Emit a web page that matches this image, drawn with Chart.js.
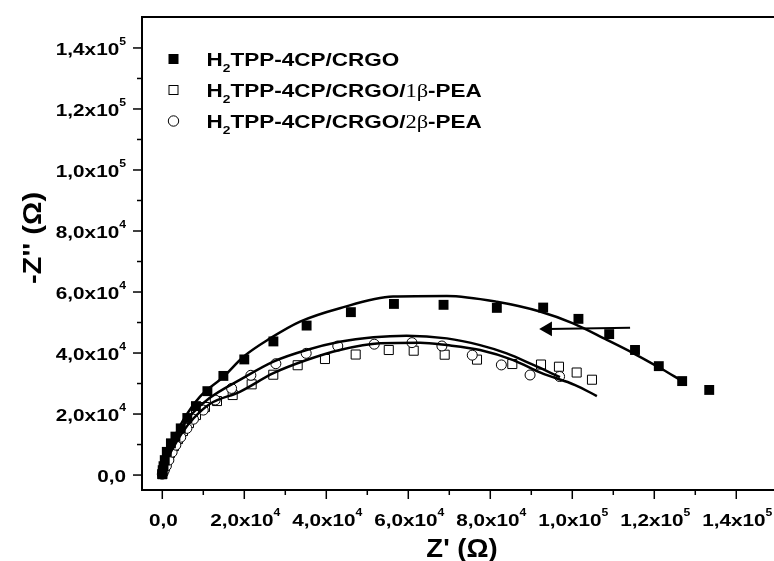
<!DOCTYPE html>
<html>
<head>
<meta charset="utf-8">
<script src="https://cdn.jsdelivr.net/npm/chart.js@4.4.0/dist/chart.umd.min.js"></script>
<style>
    html, body { margin: 0; padding: 0; background: #fff; }
    canvas { display: block; }
</style>
</head>
<body>
<canvas id="nyquist" width="774" height="561"></canvas>
<script>
// Datos: Z' (eje x) y -Z'' (eje y), en ohm

// H2TPP-4CP/CRGO (cuadrado negro)
const crgo_x = [0, 100, 300, 600, 1100, 2100, 3200, 4500, 6100, 8200, 11000, 14900, 20000, 27100, 35200, 46000, 56500, 68600, 81600, 92900, 101500, 109000, 115300, 121100, 126800, 133400];
const crgo_y = [300, 1600, 2900, 4900, 7600, 10400, 12600, 15300, 18700, 22600, 27500, 32500, 37900, 43800, 49000, 53400, 56100, 55800, 54800, 54900, 51200, 46200, 41000, 35700, 30800, 27900];

// H2TPP-4CP/CRGO/1β-PEA (cuadrado blanco)
const pea1_x = [0, 170, 660, 1150, 1880, 2850, 3830, 5050, 6510, 8220, 10410, 13340, 17170, 21800, 27070, 33020, 39680, 47170, 55240, 61320, 68880, 76760, 85370, 92370, 96750, 101070, 104800];
const pea1_y = [300, 1310, 2950, 4920, 7210, 9510, 11800, 14430, 17050, 19670, 22300, 24260, 26230, 29740, 32890, 36000, 38040, 39510, 40990, 40760, 39450, 37840, 36400, 36230, 35510, 33610, 31250];

// H2TPP-4CP/CRGO/2β-PEA (círculo blanco)
const pea2_x = [0, 200, 500, 1000, 1600, 2400, 3300, 4500, 6000, 7600, 10000, 12900, 16900, 21600, 27700, 35100, 42800, 51700, 60900, 68200, 75600, 82700, 89700, 96900];
const pea2_y = [300, 700, 1600, 3000, 4900, 7500, 9800, 12400, 15300, 18300, 21300, 24600, 28400, 32700, 36500, 39900, 42300, 42900, 43400, 42300, 39300, 36100, 32800, 32300];

// Curvas de ajuste (líneas continuas)
const ajuste_crgo_x = [0, 700, 1900, 3300, 5100, 9200, 14900, 19800, 26300, 33600, 43300, 56300, 69400, 81600, 92100, 100200, 108000, 114800, 121400, 126800];
const ajuste_crgo_y = [300, 4300, 8900, 13400, 18000, 25700, 32200, 38800, 44800, 50300, 54700, 58500, 58700, 56800, 53600, 49700, 44600, 40000, 35100, 30800];

const ajuste_pea1_x = [0, 900, 2600, 4800, 7700, 11600, 18900, 27100, 35200, 43300, 53100, 62900, 69400, 77500, 85600, 92400, 100700, 106000];
const ajuste_pea1_y = [0, 4300, 8800, 13800, 18700, 23300, 27300, 33400, 37700, 41000, 43200, 43400, 42600, 41000, 37700, 33500, 29500, 25900];

const ajuste_pea2_x = [0, 900, 2400, 4300, 7200, 11600, 18900, 27100, 35200, 43300, 51500, 59600, 69400, 77500, 84000, 90500, 97000];
const ajuste_pea2_y = [0, 4900, 9800, 14800, 20000, 25300, 31200, 37200, 41000, 43700, 45200, 45700, 44800, 42600, 39900, 36100, 32100];

// Flecha (dirección de la frecuencia)
const flecha_x = [114100, 94000];
const flecha_y = [48300, 47900];

// Marcas de los ejes
const ticks_x = [0, 20000, 40000, 60000, 80000, 100000, 120000, 140000];
const etiquetas_x = ['0,0', '2,0x10^4', '4,0x10^4', '6,0x10^4', '8,0x10^4', '1,0x10^5', '1,2x10^5', '1,4x10^5'];
const ticks_y = [0, 20000, 40000, 60000, 80000, 100000, 120000, 140000];
const etiquetas_y = ['0,0', '2,0x10^4', '4,0x10^4', '6,0x10^4', '8,0x10^4', '1,0x10^5', '1,2x10^5', '1,4x10^5'];
const paso_menor = 10000;

const titulo_x = "Z' (Ω)";
const titulo_y = "-Z'' (Ω)";

function puntos(xs, ys) {
    return xs.map((x, i) => ({ x: x, y: ys[i] }));
}

// Texto con estiramiento horizontal (como en el original de Origin)
const FUENTE = '"Liberation Sans", Arial, sans-serif';
const SERIF = '"Liberation Serif", "Times New Roman", serif';

function anchoPartes(ctx, partes, estirar) {
    let w = 0;
    partes.forEach(p => {
        ctx.font = p.font;
        w += ctx.measureText(p.t).width * estirar;
    });
    return w;
}

function escribirPartes(ctx, partes, x, y, estirar) {
    partes.forEach(p => {
        ctx.font = p.font;
        ctx.save();
        ctx.translate(x, y + (p.dy || 0));
        ctx.scale(estirar, 1);
        ctx.textAlign = 'left';
        ctx.textBaseline = 'alphabetic';
        ctx.fillText(p.t, 0, 0);
        ctx.restore();
        x += ctx.measureText(p.t).width * estirar;
    });
}

function partesTick(etiqueta) {
    const trozos = etiqueta.split('^');
    const partes = [{ t: trozos[0], font: 'bold 17px ' + FUENTE }];
    if (trozos[1]) partes.push({ t: trozos[1], font: 'bold 10px ' + FUENTE, dy: -10 });
    return partes;
}

function partesLeyenda(nombre) {
    // "H2TPP-..." con el 2 en subíndice y "1β"/"2β" en fuente serif
    const negrita = 'bold 18px ' + FUENTE;
    const partes = [{ t: 'H', font: negrita }, { t: '2', font: 'bold 11px ' + FUENTE, dy: 6 }];
    const resto = nombre.slice(2);
    const m = resto.match(/^(.*\/)(\dβ)(.*)$/);
    if (m) {
        partes.push({ t: m[1], font: negrita });
        partes.push({ t: m[2], font: '18px ' + SERIF });
        partes.push({ t: m[3], font: negrita });
    } else {
        partes.push({ t: resto, font: negrita });
    }
    return partes;
}

const ejes_origin = {
    id: 'ejes_origin',
    afterDatasetsDraw(chart) {
        const ctx = chart.ctx;
        const area = chart.chartArea;
        const sx = chart.scales.x;
        const sy = chart.scales.y;
        ctx.save();
        ctx.fillStyle = '#000';
        ctx.strokeStyle = '#000';

        // marco: arriba, izquierda, abajo
        ctx.lineWidth = 2;
        ctx.beginPath();
        ctx.moveTo(area.right + 2, area.top);
        ctx.lineTo(area.left, area.top);
        ctx.lineTo(area.left, area.bottom);
        ctx.lineTo(area.right + 2, area.bottom);
        ctx.stroke();

        // marcas mayores y menores
        ctx.lineWidth = 1.5;
        const vmax = ticks_x[ticks_x.length - 1];
        for (let v = 0; v <= vmax; v += paso_menor) {
            const largo = ticks_x.includes(v) ? 9 : 5;
            const px = sx.getPixelForValue(v);
            ctx.beginPath();
            ctx.moveTo(px, area.bottom);
            ctx.lineTo(px, area.bottom + largo);
            ctx.stroke();
        }
        const vmaxy = ticks_y[ticks_y.length - 1];
        for (let v = 0; v <= vmaxy + paso_menor; v += paso_menor) {
            if (sy.getPixelForValue(v) <= area.top + 2) break;
            const largo = ticks_y.includes(v) ? 9 : 5;
            const py = sy.getPixelForValue(v);
            ctx.beginPath();
            ctx.moveTo(area.left, py);
            ctx.lineTo(area.left - largo, py);
            ctx.stroke();
        }

        // etiquetas de los ejes
        const est = 1.22;
        ticks_x.forEach((v, i) => {
            const partes = partesTick(etiquetas_x[i]);
            const w = anchoPartes(ctx, partes, est);
            escribirPartes(ctx, partes, sx.getPixelForValue(v) - w / 2 + 1, area.bottom + 36, est);
        });
        ticks_y.forEach((v, i) => {
            const partes = partesTick(etiquetas_y[i]);
            const w = anchoPartes(ctx, partes, est);
            escribirPartes(ctx, partes, area.left - 16 - w, sy.getPixelForValue(v) + 7, est);
        });

        // títulos
        const pt = [{ t: titulo_x, font: 'bold 25px ' + FUENTE }];
        const wt = anchoPartes(ctx, pt, 1.1);
        escribirPartes(ctx, pt, 462 - wt / 2, 557, 1.1);

        const py_t = [{ t: titulo_y, font: 'bold 26px ' + FUENTE }];
        const wy = anchoPartes(ctx, py_t, 1.12);
        ctx.save();
        ctx.translate(41, 238);
        ctx.rotate(-Math.PI / 2);
        escribirPartes(ctx, py_t, -wy / 2, 0, 1.12);
        ctx.restore();

        // leyenda
        const base_y = [66, 97, 128];
        const sym_y = [59, 90, 121];
        const sym_x = 173.5;
        // cuadrado negro
        ctx.fillRect(sym_x - 5, sym_y[0] - 5, 10, 10);
        // cuadrado blanco
        ctx.lineWidth = 1;
        ctx.fillStyle = '#fff';
        ctx.fillRect(sym_x - 4.5, sym_y[1] - 4.5, 9, 9);
        ctx.strokeRect(sym_x - 4.5, sym_y[1] - 4.5, 9, 9);
        // círculo blanco
        ctx.beginPath();
        ctx.arc(sym_x, sym_y[2], 5.2, 0, Math.PI * 2);
        ctx.fill();
        ctx.stroke();
        ctx.fillStyle = '#000';
        series_nombres.forEach((n, i) => {
            escribirPartes(ctx, partesLeyenda(n), 206.5, base_y[i], 1.25);
        });

        ctx.restore();
    }
};

const series_nombres = ['H2TPP-4CP/CRGO', 'H2TPP-4CP/CRGO/1β-PEA', 'H2TPP-4CP/CRGO/2β-PEA'];

function lineaAjuste(xs, ys) {
    return {
        data: puntos(xs, ys),
        showLine: true,
        borderColor: '#000',
        borderWidth: 2.5,
        pointRadius: 0,
        cubicInterpolationMode: 'monotone',
        order: 1
    };
}

const ctx = document.getElementById('nyquist').getContext('2d');
const grafico = new Chart(ctx, {
    type: 'scatter',
    data: {
        datasets: [
            lineaAjuste(ajuste_crgo_x, ajuste_crgo_y),
            lineaAjuste(ajuste_pea1_x, ajuste_pea1_y),
            lineaAjuste(ajuste_pea2_x, ajuste_pea2_y),
            {
                data: puntos(flecha_x, flecha_y),
                showLine: true,
                borderColor: '#000',
                borderWidth: 2,
                backgroundColor: '#000',
                pointStyle: 'triangle',
                pointRadius: [0, 8.5],
                pointRotation: -90,
                pointBorderWidth: 0,
                order: 0
            },
            {
                label: series_nombres[0],
                data: puntos(crgo_x, crgo_y),
                pointStyle: 'rect',
                pointRadius: 7,
                backgroundColor: '#000',
                borderColor: '#000',
                borderWidth: 0,
                order: 2
            },
            {
                label: series_nombres[1],
                data: puntos(pea1_x, pea1_y),
                pointStyle: 'rect',
                pointRadius: 6.4,
                backgroundColor: '#fff',
                borderColor: '#000',
                borderWidth: 1,
                order: 3
            },
            {
                label: series_nombres[2],
                data: puntos(pea2_x, pea2_y),
                pointStyle: 'circle',
                pointRadius: 5,
                backgroundColor: '#fff',
                borderColor: '#000',
                borderWidth: 1,
                order: 2
            }
        ]
    },
    options: {
        responsive: false,
        animation: false,
        devicePixelRatio: 1,
        layout: { padding: { left: 142, top: 17, right: 0, bottom: 71 }, autoPadding: false },
        plugins: {
            legend: { display: false },
            tooltip: { enabled: false }
        },
        scales: {
            x: { type: 'linear', min: -4950, max: 149200, display: false },
            y: { type: 'linear', min: -4900, max: 150150, display: false }
        }
    },
    plugins: [ejes_origin]
});
</script>
</body>
</html>
